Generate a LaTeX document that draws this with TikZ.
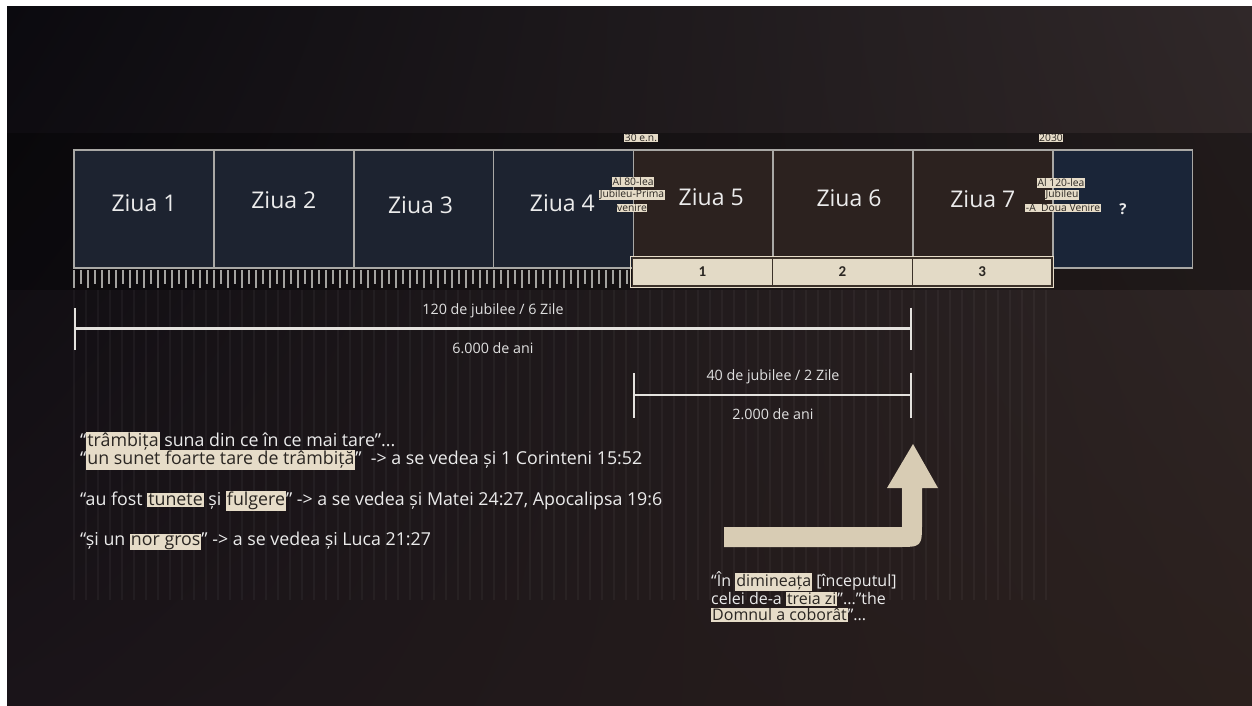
\documentclass[tikz,border=0pt]{standalone}
\usepackage{xcolor}
\usepackage{fontspec}
\setmainfont{Open Sans}
\newfontfamily\numfont{Carlito}
\usepackage{tikz}
\usetikzlibrary{arrows.meta,positioning,shadings}
\definecolor{boxline}{HTML}{A9A8A5}
\definecolor{navybox}{HTML}{1D2330}
\definecolor{brownbox}{HTML}{2C221F}
\definecolor{bluebox}{HTML}{1A2538}
\definecolor{numfill}{HTML}{E3DAC6}
\definecolor{numline}{HTML}{3B3129}
\definecolor{tagfill}{HTML}{E6DCC8}
\definecolor{tagtext}{HTML}{2A2622}
\definecolor{spanwhite}{HTML}{E4E2DE}
\definecolor{arrowbeige}{HTML}{D8CCB4}
\definecolor{tickgrey}{HTML}{A3A29F}
\definecolor{bgul}{HTML}{0B0A0F}
\definecolor{bgur}{HTML}{302829}
\definecolor{bgll}{HTML}{1A1419}
\definecolor{bglr}{HTML}{2B201D}
\newcommand\hl[1]{{\setlength\fboxsep{1pt}\colorbox{tagfill}{\color{tagtext}#1}}}
\tikzset{
  daybox/.style={
    draw=boxline,line width=1.6pt,minimum width=139.8pt,
    minimum height=118pt,inner sep=0pt,outer sep=0pt
  },
  daytext/.style={text=white!92!black,font=\fontsize{23}{26}\selectfont},
  numbox/.style={
    draw=numline,line width=1.4pt,fill=numfill,minimum width=139.8pt,
    minimum height=28pt,inner sep=0pt,outer sep=0pt,text=tagtext,
    font=\numfont\bfseries\fontsize{15}{17}\selectfont
  },
  tag/.style={fill=tagfill,text=tagtext,inner sep=0.6pt,font=\fontsize{10.3}{11}\selectfont},
  spanline/.style={draw=spanwhite,line width=2.4pt},
  spantext/.style={text=white!88!black,font=\fontsize{14.3}{16}\selectfont},
  quoteline/.style={anchor=west,inner sep=0pt,text=white!92!black,font=\fontsize{17.8}{20}\selectfont}
}
\begin{document}
\begin{tikzpicture}[x=1pt,y=-1pt]
\useasboundingbox (0,0) rectangle (1252,705);
% background
\fill[white] (0,0) rectangle (1252,705);
\shade[upper left=bgul,upper right=bgur,lower left=bgll,lower right=bglr]
  (7,6) rectangle (1252,705);
\fill[black,opacity=.3] (7,133) rectangle (1252,290);
\foreach \x in {74,86,...,1052}
  \draw[white,opacity=.04,line width=1.5pt] (\x,290) -- (\x,600);

% days
\node[daybox,fill=navybox] (d1) at (144,209) {};
\node[daybox,fill=navybox,right=0pt of d1] (d2) {};
\node[daybox,fill=navybox,right=0pt of d2] (d3) {};
\node[daybox,fill=navybox,right=0pt of d3] (d4) {};
\node[daybox,fill=brownbox,right=0pt of d4] (d5) {};
\node[daybox,fill=brownbox,right=0pt of d5] (d6) {};
\node[daybox,fill=brownbox,right=0pt of d6] (d7) {};
\node[daybox,fill=bluebox,right=0pt of d7] (dq) {};
\node[daytext] (z1) at ([yshift=6pt]d1.center) {Ziua 1};
\node[daytext] (z2) at ([yshift=9pt]d2.center) {Ziua 2};
\node[daytext] (z3) at ([yshift=4pt,xshift=-3pt]d3.center) {Ziua 3};
\node[daytext] (z4) at ([yshift=6pt,xshift=-1pt]d4.center) {Ziua 4};
\node[daytext] (z5) at ([yshift=12pt,xshift=8pt]d5.center) {Ziua 5};
\node[daytext] (z6) at ([yshift=11pt,xshift=6pt]d6.center) {Ziua 6};
\node[daytext] (z7) at ([yshift=10pt]d7.center) {Ziua 7};
\node[text=white!92!black,font=\bfseries\fontsize{15}{17}\selectfont] (zq) at (1123,209) {?};

% ticks under the first four days
\foreach \x in {74,88,...,633}
  \draw[tickgrey,line width=1.1pt] (\x,270) -- (\x,288);
\foreach \x in {81,95,...,633}
  \draw[tickgrey,line width=1.1pt] (\x,270) -- (\x,284);

% the three days numbered
\node[numbox] (n1) at (702.5,272) {1};
\node[numbox,right=0pt of n1] (n2) {2};
\node[numbox,right=0pt of n2] (n3) {3};
\draw[tagfill,line width=1.2pt] ([shift={(-1.8,-1.8)}]n1.north west)
  rectangle ([shift={(1.8,1.8)}]n3.south east);

% tags
\node[tag] (t30) at (641,138) {30 e.n.};
\node[tag] (t2030) at (1051,138) {2030};
\node[tag] (j80a) at (633,182) {Al 80-lea};
\node[tag] (j80b) at (632,195) {Jubileu-Prima};
\node[tag] (j80c) at (632,208) {venire};
\node[tag] (j120a) at (1061,183) {Al 120-lea};
\node[tag] (j120b) at (1062,195) {Jubileu};
\node[tag] (j120c) at (1063,208) {-A~ Doua Venire};

% spans
\coordinate (s1a) at (74,328.5);
\coordinate (s1b) at (912,328.5);
\draw[spanline,{Bar[width=42pt]}-{Bar[width=42pt]}] (s1a) -- (s1b);
\node[spantext] (s1top) at (493,311) {120 de jubilee / 6 Zile};
\node[spantext] (s1bot) at (493,348) {6.000 de ani};
\coordinate (s2a) at (633,395);
\coordinate (s2b) at (912,395);
\draw[spanline,{Bar[width=45pt]}-{Bar[width=45pt]}] (s2a) -- (s2b);
\node[spantext] (s2top) at (773,377) {40 de jubilee / 2 Zile};
\node[spantext] (s2bot) at (773,414) {2.000 de ani};

% quotes
\node[quoteline] (q1) at (80,442) {“\hl{trâmbița} suna din ce în ce mai tare”...};
\node[quoteline] (q2) at (80,460) {“\hl{un sunet foarte tare de trâmbiță}”\ \ -> a se vedea și 1 Corinteni 15:52};
\node[quoteline] (q3) at (80,501) {“au fost \hl{tunete} și \hl{fulgere}” -> a se vedea și Matei 24:27, Apocalipsa 19:6};
\node[quoteline] (q4) at (80,541) {“și un \hl{nor gros}” -> a se vedea și Luca 21:27};

% bent arrow
\fill[arrowbeige] (724,527) -- (902,527) -- (902,488) -- (887,488) -- (913,444)
  -- (938,488) -- (922,488) -- (922,522) .. controls (922,547) .. (897,547)
  -- (724,547) -- cycle;
\node[anchor=north west,inner sep=0pt,align=left,text=white!92!black,
  font=\fontsize{16}{16.5}\selectfont] (morn) at (711,571)
  {“În \hl{dimineața} [începutul]\\celei de-a \hl{treia zi}”...”the\\\hl{Domnul a coborât}”...};
\end{tikzpicture}
\end{document}
